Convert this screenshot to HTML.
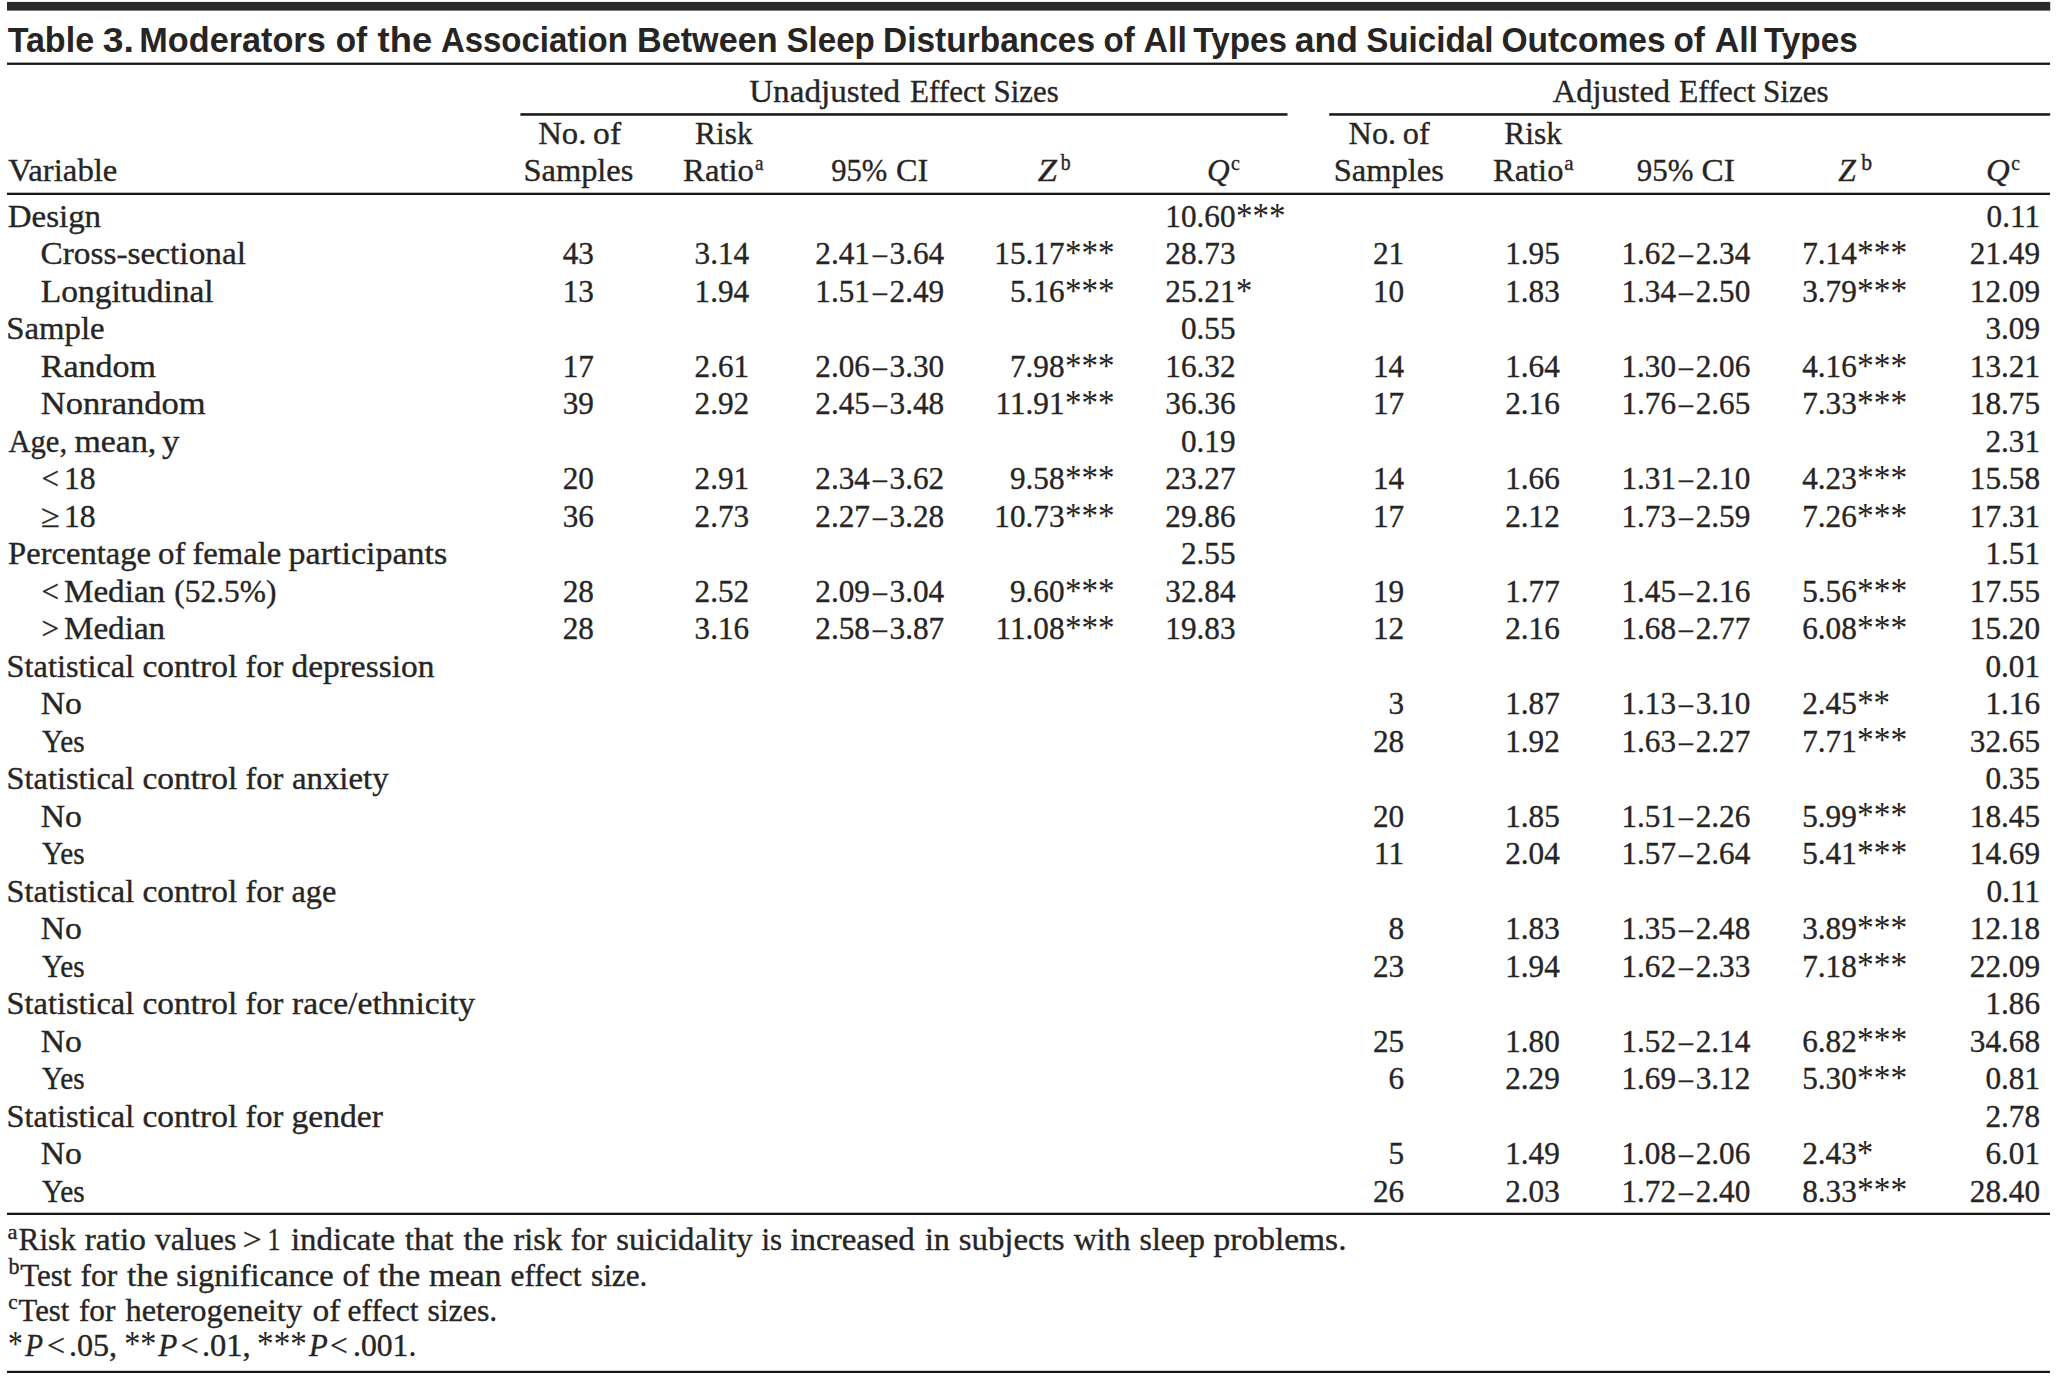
<!DOCTYPE html>
<html lang="en"><head><meta charset="utf-8"><title>Table 3</title>
<style>
html,body{margin:0;padding:0;background:#fff;overflow:hidden}
svg{display:block}
text{fill:#272524;white-space:pre;stroke:#272524;stroke-width:0.35px}
.ttl{stroke:none}
.ttl{font:bold 35.2px "Liberation Sans",sans-serif}
.lab{font:32.5px "Liberation Serif",serif}
.num{font:31.2px "Liberation Serif",serif}
.ital{font:italic 32.5px "Liberation Serif",serif}
.sup{font:21px "Liberation Serif",serif}
.supb{font:23px "Liberation Serif",serif}
.ast{font:36.5px "Liberation Serif",serif;stroke:none}
.e{text-anchor:end}
</style></head>
<body>
<svg width="2059" height="1376" viewBox="0 0 2059 1376">
<rect x="0" y="0" width="2059" height="1376" fill="#fff"/>
<rect x="7.0" y="1.9" width="2043.2" height="8.7" fill="#2a2927"/>
<rect x="7.0" y="62.6" width="2043.0" height="2.3" fill="#171614"/>
<rect x="520.4" y="113.2" width="767.1" height="2.5" fill="#171614"/>
<rect x="1329.2" y="113.2" width="721.0" height="2.5" fill="#171614"/>
<rect x="7.0" y="192.7" width="2043.0" height="2.3" fill="#171614"/>
<rect x="7.0" y="1212.7" width="2043.0" height="2.3" fill="#171614"/>
<rect x="7.0" y="1370.8" width="2043.0" height="2.2" fill="#171614"/>
<text class="ttl" x="7.63" y="51.70" textLength="86.47" lengthAdjust="spacingAndGlyphs">Table</text>
<text class="ttl" x="102.68" y="51.70" textLength="31.12" lengthAdjust="spacingAndGlyphs">3.</text>
<text class="ttl" x="139.34" y="51.70" textLength="186.34" lengthAdjust="spacingAndGlyphs">Moderators</text>
<text class="ttl" x="335.80" y="51.70" textLength="31.39" lengthAdjust="spacingAndGlyphs">of</text>
<text class="ttl" x="377.58" y="51.70" textLength="54.53" lengthAdjust="spacingAndGlyphs">the</text>
<text class="ttl" x="440.88" y="51.70" textLength="186.91" lengthAdjust="spacingAndGlyphs">Association</text>
<text class="ttl" x="637.05" y="51.70" textLength="140.45" lengthAdjust="spacingAndGlyphs">Between</text>
<text class="ttl" x="786.46" y="51.70" textLength="88.41" lengthAdjust="spacingAndGlyphs">Sleep</text>
<text class="ttl" x="883.06" y="51.70" textLength="212.02" lengthAdjust="spacingAndGlyphs">Disturbances</text>
<text class="ttl" x="1103.50" y="51.70" textLength="31.20" lengthAdjust="spacingAndGlyphs">of</text>
<text class="ttl" x="1143.55" y="51.70" textLength="43.27" lengthAdjust="spacingAndGlyphs">All</text>
<text class="ttl" x="1193.34" y="51.70" textLength="93.57" lengthAdjust="spacingAndGlyphs">Types</text>
<text class="ttl" x="1294.80" y="51.70" textLength="63.13" lengthAdjust="spacingAndGlyphs">and</text>
<text class="ttl" x="1366.14" y="51.70" textLength="127.34" lengthAdjust="spacingAndGlyphs">Suicidal</text>
<text class="ttl" x="1501.44" y="51.70" textLength="164.22" lengthAdjust="spacingAndGlyphs">Outcomes</text>
<text class="ttl" x="1673.39" y="51.70" textLength="31.44" lengthAdjust="spacingAndGlyphs">of</text>
<text class="ttl" x="1714.67" y="51.70" textLength="43.42" lengthAdjust="spacingAndGlyphs">All</text>
<text class="ttl" x="1763.94" y="51.70" textLength="93.73" lengthAdjust="spacingAndGlyphs">Types</text>

<text class="lab" x="749.17" y="102.00" textLength="150.97" lengthAdjust="spacingAndGlyphs">Unadjusted</text>
<text class="lab" x="910.07" y="102.00" textLength="75.25" lengthAdjust="spacingAndGlyphs">Effect</text>
<text class="lab" x="993.58" y="102.00" textLength="65.06" lengthAdjust="spacingAndGlyphs">Sizes</text>
<text class="lab" x="1552.79" y="102.00" textLength="117.27" lengthAdjust="spacingAndGlyphs">Adjusted</text>
<text class="lab" x="1679.04" y="102.00" textLength="76.45" lengthAdjust="spacingAndGlyphs">Effect</text>
<text class="lab" x="1762.98" y="102.00" textLength="65.59" lengthAdjust="spacingAndGlyphs">Sizes</text>

<text class="lab" x="8.29" y="181.40" textLength="109.13" lengthAdjust="spacingAndGlyphs">Variable</text>

<text class="lab" x="538.17" y="143.90" textLength="48.16" lengthAdjust="spacingAndGlyphs">No.</text>
<text class="lab" x="593.12" y="143.90" textLength="27.96" lengthAdjust="spacingAndGlyphs">of</text>

<text class="lab" x="523.44" y="181.40" textLength="109.97" lengthAdjust="spacingAndGlyphs">Samples</text>

<text class="lab" x="1348.60" y="143.90" textLength="47.48" lengthAdjust="spacingAndGlyphs">No.</text>
<text class="lab" x="1402.76" y="143.90" textLength="26.92" lengthAdjust="spacingAndGlyphs">of</text>

<text class="lab" x="1333.69" y="181.40" textLength="110.21" lengthAdjust="spacingAndGlyphs">Samples</text>

<text class="lab" x="695.06" y="143.90" textLength="57.53" lengthAdjust="spacingAndGlyphs">Risk</text>

<text class="lab" x="683.11" y="181.40" textLength="70.87" lengthAdjust="spacingAndGlyphs">Ratio</text>

<text class="sup" x="754.97" y="169.60" textLength="8.49" lengthAdjust="spacingAndGlyphs">a</text>

<text class="lab" x="1504.35" y="143.90" textLength="57.77" lengthAdjust="spacingAndGlyphs">Risk</text>

<text class="lab" x="1492.99" y="181.40" textLength="70.40" lengthAdjust="spacingAndGlyphs">Ratio</text>

<text class="sup" x="1564.21" y="169.60" textLength="9.36" lengthAdjust="spacingAndGlyphs">a</text>

<text class="lab" x="831.26" y="181.40" textLength="56.08" lengthAdjust="spacingAndGlyphs">95%</text>
<text class="lab" x="896.10" y="181.40" textLength="32.27" lengthAdjust="spacingAndGlyphs">CI</text>
<text class="lab" x="1636.73" y="181.40" textLength="56.68" lengthAdjust="spacingAndGlyphs">95%</text>
<text class="lab" x="1701.55" y="181.40" textLength="33.29" lengthAdjust="spacingAndGlyphs">CI</text>
<text class="ital" x="1037.71" y="181.40" textLength="19.18" lengthAdjust="spacingAndGlyphs">Z</text>

<text class="supb" x="1060.69" y="170.00" textLength="9.89" lengthAdjust="spacingAndGlyphs">b</text>

<text class="ital" x="1838.19" y="181.40" textLength="17.61" lengthAdjust="spacingAndGlyphs">Z</text>

<text class="supb" x="1861.32" y="170.00" textLength="10.87" lengthAdjust="spacingAndGlyphs">b</text>

<text class="ital" x="1207.05" y="181.40" textLength="22.64" lengthAdjust="spacingAndGlyphs">Q</text>

<text class="sup" x="1230.88" y="169.60" textLength="8.87" lengthAdjust="spacingAndGlyphs">c</text>

<text class="ital" x="1985.90" y="181.40" textLength="23.72" lengthAdjust="spacingAndGlyphs">Q</text>

<text class="sup" x="2011.26" y="169.60" textLength="8.66" lengthAdjust="spacingAndGlyphs">c</text>

<text class="lab" x="7.73" y="226.80" textLength="93.39" lengthAdjust="spacingAndGlyphs">Design</text>
<text class="num e" x="1235.50" y="226.80">10.60</text>
<text class="ast" x="1235.90" y="227.60" textLength="49.58" lengthAdjust="spacingAndGlyphs">***</text>
<text class="num e" x="2040.00" y="226.80">0.11</text>

<text class="lab" x="40.52" y="264.29" textLength="205.51" lengthAdjust="spacingAndGlyphs">Cross-sectional</text>
<text class="num e" x="593.90" y="264.29">43</text>
<text class="num e" x="749.20" y="264.29">3.14</text>
<text class="num e" x="944.20" y="264.29">3.64</text>
<text class="num" x="872.90" y="264.29" textLength="13.90" lengthAdjust="spacingAndGlyphs">–</text>
<text class="num e" x="869.90" y="264.29">2.41</text>
<text class="num e" x="1064.50" y="264.29">15.17</text>
<text class="ast" x="1064.90" y="265.09" textLength="49.58" lengthAdjust="spacingAndGlyphs">***</text>
<text class="num e" x="1235.50" y="264.29">28.73</text>
<text class="num e" x="1404.10" y="264.29">21</text>
<text class="num e" x="1559.80" y="264.29">1.95</text>
<text class="num e" x="1750.30" y="264.29">2.34</text>
<text class="num" x="1679.00" y="264.29" textLength="13.90" lengthAdjust="spacingAndGlyphs">–</text>
<text class="num e" x="1676.00" y="264.29">1.62</text>
<text class="num e" x="1856.80" y="264.29">7.14</text>
<text class="ast" x="1857.12" y="265.09" textLength="50.13" lengthAdjust="spacingAndGlyphs">***</text>
<text class="num e" x="2040.00" y="264.29">21.49</text>

<text class="lab" x="40.73" y="301.78" textLength="172.96" lengthAdjust="spacingAndGlyphs">Longitudinal</text>
<text class="num e" x="593.90" y="301.78">13</text>
<text class="num e" x="749.20" y="301.78">1.94</text>
<text class="num e" x="944.20" y="301.78">2.49</text>
<text class="num" x="872.90" y="301.78" textLength="13.90" lengthAdjust="spacingAndGlyphs">–</text>
<text class="num e" x="869.90" y="301.78">1.51</text>
<text class="num e" x="1064.50" y="301.78">5.16</text>
<text class="ast" x="1064.90" y="302.58" textLength="49.58" lengthAdjust="spacingAndGlyphs">***</text>
<text class="num e" x="1235.50" y="301.78">25.21</text>
<text class="ast" x="1235.95" y="302.58" textLength="16.27" lengthAdjust="spacingAndGlyphs">*</text>
<text class="num e" x="1404.10" y="301.78">10</text>
<text class="num e" x="1559.80" y="301.78">1.83</text>
<text class="num e" x="1750.30" y="301.78">2.50</text>
<text class="num" x="1679.00" y="301.78" textLength="13.90" lengthAdjust="spacingAndGlyphs">–</text>
<text class="num e" x="1676.00" y="301.78">1.34</text>
<text class="num e" x="1856.80" y="301.78">3.79</text>
<text class="ast" x="1857.12" y="302.58" textLength="50.13" lengthAdjust="spacingAndGlyphs">***</text>
<text class="num e" x="2040.00" y="301.78">12.09</text>

<text class="lab" x="6.22" y="339.27" textLength="98.35" lengthAdjust="spacingAndGlyphs">Sample</text>
<text class="num e" x="1235.50" y="339.27">0.55</text>
<text class="num e" x="2040.00" y="339.27">3.09</text>

<text class="lab" x="40.72" y="376.76" textLength="115.21" lengthAdjust="spacingAndGlyphs">Random</text>
<text class="num e" x="593.90" y="376.76">17</text>
<text class="num e" x="749.20" y="376.76">2.61</text>
<text class="num e" x="944.20" y="376.76">3.30</text>
<text class="num" x="872.90" y="376.76" textLength="13.90" lengthAdjust="spacingAndGlyphs">–</text>
<text class="num e" x="869.90" y="376.76">2.06</text>
<text class="num e" x="1064.50" y="376.76">7.98</text>
<text class="ast" x="1064.90" y="377.56" textLength="49.58" lengthAdjust="spacingAndGlyphs">***</text>
<text class="num e" x="1235.50" y="376.76">16.32</text>
<text class="num e" x="1404.10" y="376.76">14</text>
<text class="num e" x="1559.80" y="376.76">1.64</text>
<text class="num e" x="1750.30" y="376.76">2.06</text>
<text class="num" x="1679.00" y="376.76" textLength="13.90" lengthAdjust="spacingAndGlyphs">–</text>
<text class="num e" x="1676.00" y="376.76">1.30</text>
<text class="num e" x="1856.80" y="376.76">4.16</text>
<text class="ast" x="1857.12" y="377.56" textLength="50.13" lengthAdjust="spacingAndGlyphs">***</text>
<text class="num e" x="2040.00" y="376.76">13.21</text>

<text class="lab" x="40.71" y="414.25" textLength="164.97" lengthAdjust="spacingAndGlyphs">Nonrandom</text>
<text class="num e" x="593.90" y="414.25">39</text>
<text class="num e" x="749.20" y="414.25">2.92</text>
<text class="num e" x="944.20" y="414.25">3.48</text>
<text class="num" x="872.90" y="414.25" textLength="13.90" lengthAdjust="spacingAndGlyphs">–</text>
<text class="num e" x="869.90" y="414.25">2.45</text>
<text class="num e" x="1064.50" y="414.25">11.91</text>
<text class="ast" x="1064.90" y="415.05" textLength="49.58" lengthAdjust="spacingAndGlyphs">***</text>
<text class="num e" x="1235.50" y="414.25">36.36</text>
<text class="num e" x="1404.10" y="414.25">17</text>
<text class="num e" x="1559.80" y="414.25">2.16</text>
<text class="num e" x="1750.30" y="414.25">2.65</text>
<text class="num" x="1679.00" y="414.25" textLength="13.90" lengthAdjust="spacingAndGlyphs">–</text>
<text class="num e" x="1676.00" y="414.25">1.76</text>
<text class="num e" x="1856.80" y="414.25">7.33</text>
<text class="ast" x="1857.12" y="415.05" textLength="50.13" lengthAdjust="spacingAndGlyphs">***</text>
<text class="num e" x="2040.00" y="414.25">18.75</text>

<text class="lab" x="8.41" y="451.74" textLength="58.70" lengthAdjust="spacingAndGlyphs">Age,</text>
<text class="lab" x="74.49" y="451.74" textLength="81.81" lengthAdjust="spacingAndGlyphs">mean,</text>
<text class="lab" x="161.93" y="451.74" textLength="17.50" lengthAdjust="spacingAndGlyphs">y</text>
<text class="num e" x="1235.50" y="451.74">0.19</text>
<text class="num e" x="2040.00" y="451.74">2.31</text>

<text class="lab" x="41.47" y="489.23" textLength="17.55" lengthAdjust="spacingAndGlyphs">&lt;</text>
<text class="lab" x="63.92" y="489.23" textLength="31.70" lengthAdjust="spacingAndGlyphs">18</text>
<text class="num e" x="593.90" y="489.23">20</text>
<text class="num e" x="749.20" y="489.23">2.91</text>
<text class="num e" x="944.20" y="489.23">3.62</text>
<text class="num" x="872.90" y="489.23" textLength="13.90" lengthAdjust="spacingAndGlyphs">–</text>
<text class="num e" x="869.90" y="489.23">2.34</text>
<text class="num e" x="1064.50" y="489.23">9.58</text>
<text class="ast" x="1064.90" y="490.03" textLength="49.58" lengthAdjust="spacingAndGlyphs">***</text>
<text class="num e" x="1235.50" y="489.23">23.27</text>
<text class="num e" x="1404.10" y="489.23">14</text>
<text class="num e" x="1559.80" y="489.23">1.66</text>
<text class="num e" x="1750.30" y="489.23">2.10</text>
<text class="num" x="1679.00" y="489.23" textLength="13.90" lengthAdjust="spacingAndGlyphs">–</text>
<text class="num e" x="1676.00" y="489.23">1.31</text>
<text class="num e" x="1856.80" y="489.23">4.23</text>
<text class="ast" x="1857.12" y="490.03" textLength="50.13" lengthAdjust="spacingAndGlyphs">***</text>
<text class="num e" x="2040.00" y="489.23">15.58</text>

<text class="lab" x="41.25" y="526.72" textLength="18.73" lengthAdjust="spacingAndGlyphs">≥</text>
<text class="lab" x="63.92" y="526.72" textLength="31.70" lengthAdjust="spacingAndGlyphs">18</text>
<text class="num e" x="593.90" y="526.72">36</text>
<text class="num e" x="749.20" y="526.72">2.73</text>
<text class="num e" x="944.20" y="526.72">3.28</text>
<text class="num" x="872.90" y="526.72" textLength="13.90" lengthAdjust="spacingAndGlyphs">–</text>
<text class="num e" x="869.90" y="526.72">2.27</text>
<text class="num e" x="1064.50" y="526.72">10.73</text>
<text class="ast" x="1064.90" y="527.52" textLength="49.58" lengthAdjust="spacingAndGlyphs">***</text>
<text class="num e" x="1235.50" y="526.72">29.86</text>
<text class="num e" x="1404.10" y="526.72">17</text>
<text class="num e" x="1559.80" y="526.72">2.12</text>
<text class="num e" x="1750.30" y="526.72">2.59</text>
<text class="num" x="1679.00" y="526.72" textLength="13.90" lengthAdjust="spacingAndGlyphs">–</text>
<text class="num e" x="1676.00" y="526.72">1.73</text>
<text class="num e" x="1856.80" y="526.72">7.26</text>
<text class="ast" x="1857.12" y="527.52" textLength="50.13" lengthAdjust="spacingAndGlyphs">***</text>
<text class="num e" x="2040.00" y="526.72">17.31</text>

<text class="lab" x="8.08" y="564.21" textLength="142.87" lengthAdjust="spacingAndGlyphs">Percentage</text>
<text class="lab" x="158.09" y="564.21" textLength="27.45" lengthAdjust="spacingAndGlyphs">of</text>
<text class="lab" x="192.40" y="564.21" textLength="89.01" lengthAdjust="spacingAndGlyphs">female</text>
<text class="lab" x="288.62" y="564.21" textLength="158.54" lengthAdjust="spacingAndGlyphs">participants</text>
<text class="num e" x="1235.50" y="564.21">2.55</text>
<text class="num e" x="2040.00" y="564.21">1.51</text>

<text class="lab" x="41.47" y="601.70" textLength="17.55" lengthAdjust="spacingAndGlyphs">&lt;</text>
<text class="lab" x="63.95" y="601.70" textLength="101.23" lengthAdjust="spacingAndGlyphs">Median</text>
<text class="lab" x="174.31" y="601.70" textLength="102.20" lengthAdjust="spacingAndGlyphs">(52.5%)</text>
<text class="num e" x="593.90" y="601.70">28</text>
<text class="num e" x="749.20" y="601.70">2.52</text>
<text class="num e" x="944.20" y="601.70">3.04</text>
<text class="num" x="872.90" y="601.70" textLength="13.90" lengthAdjust="spacingAndGlyphs">–</text>
<text class="num e" x="869.90" y="601.70">2.09</text>
<text class="num e" x="1064.50" y="601.70">9.60</text>
<text class="ast" x="1064.90" y="602.50" textLength="49.58" lengthAdjust="spacingAndGlyphs">***</text>
<text class="num e" x="1235.50" y="601.70">32.84</text>
<text class="num e" x="1404.10" y="601.70">19</text>
<text class="num e" x="1559.80" y="601.70">1.77</text>
<text class="num e" x="1750.30" y="601.70">2.16</text>
<text class="num" x="1679.00" y="601.70" textLength="13.90" lengthAdjust="spacingAndGlyphs">–</text>
<text class="num e" x="1676.00" y="601.70">1.45</text>
<text class="num e" x="1856.80" y="601.70">5.56</text>
<text class="ast" x="1857.12" y="602.50" textLength="50.13" lengthAdjust="spacingAndGlyphs">***</text>
<text class="num e" x="2040.00" y="601.70">17.55</text>

<text class="lab" x="41.48" y="639.19" textLength="17.56" lengthAdjust="spacingAndGlyphs">&gt;</text>
<text class="lab" x="63.95" y="639.19" textLength="101.23" lengthAdjust="spacingAndGlyphs">Median</text>
<text class="num e" x="593.90" y="639.19">28</text>
<text class="num e" x="749.20" y="639.19">3.16</text>
<text class="num e" x="944.20" y="639.19">3.87</text>
<text class="num" x="872.90" y="639.19" textLength="13.90" lengthAdjust="spacingAndGlyphs">–</text>
<text class="num e" x="869.90" y="639.19">2.58</text>
<text class="num e" x="1064.50" y="639.19">11.08</text>
<text class="ast" x="1064.90" y="639.99" textLength="49.58" lengthAdjust="spacingAndGlyphs">***</text>
<text class="num e" x="1235.50" y="639.19">19.83</text>
<text class="num e" x="1404.10" y="639.19">12</text>
<text class="num e" x="1559.80" y="639.19">2.16</text>
<text class="num e" x="1750.30" y="639.19">2.77</text>
<text class="num" x="1679.00" y="639.19" textLength="13.90" lengthAdjust="spacingAndGlyphs">–</text>
<text class="num e" x="1676.00" y="639.19">1.68</text>
<text class="num e" x="1856.80" y="639.19">6.08</text>
<text class="ast" x="1857.12" y="639.99" textLength="50.13" lengthAdjust="spacingAndGlyphs">***</text>
<text class="num e" x="2040.00" y="639.19">15.20</text>

<text class="lab" x="6.61" y="676.68" textLength="127.55" lengthAdjust="spacingAndGlyphs">Statistical</text>
<text class="lab" x="142.42" y="676.68" textLength="94.79" lengthAdjust="spacingAndGlyphs">control</text>
<text class="lab" x="245.40" y="676.68" textLength="37.97" lengthAdjust="spacingAndGlyphs">for</text>
<text class="lab" x="291.48" y="676.68" textLength="142.89" lengthAdjust="spacingAndGlyphs">depression</text>
<text class="num e" x="2040.00" y="676.68">0.01</text>

<text class="lab" x="40.73" y="714.17" textLength="41.17" lengthAdjust="spacingAndGlyphs">No</text>
<text class="num e" x="1404.10" y="714.17">3</text>
<text class="num e" x="1559.80" y="714.17">1.87</text>
<text class="num e" x="1750.30" y="714.17">3.10</text>
<text class="num" x="1679.00" y="714.17" textLength="13.90" lengthAdjust="spacingAndGlyphs">–</text>
<text class="num e" x="1676.00" y="714.17">1.13</text>
<text class="num e" x="1856.80" y="714.17">2.45</text>
<text class="ast" x="1857.14" y="714.97" textLength="32.87" lengthAdjust="spacingAndGlyphs">**</text>
<text class="num e" x="2040.00" y="714.17">1.16</text>

<text class="lab" x="42.00" y="751.66" textLength="42.59" lengthAdjust="spacingAndGlyphs">Yes</text>
<text class="num e" x="1404.10" y="751.66">28</text>
<text class="num e" x="1559.80" y="751.66">1.92</text>
<text class="num e" x="1750.30" y="751.66">2.27</text>
<text class="num" x="1679.00" y="751.66" textLength="13.90" lengthAdjust="spacingAndGlyphs">–</text>
<text class="num e" x="1676.00" y="751.66">1.63</text>
<text class="num e" x="1856.80" y="751.66">7.71</text>
<text class="ast" x="1857.12" y="752.46" textLength="50.13" lengthAdjust="spacingAndGlyphs">***</text>
<text class="num e" x="2040.00" y="751.66">32.65</text>

<text class="lab" x="6.61" y="789.15" textLength="127.55" lengthAdjust="spacingAndGlyphs">Statistical</text>
<text class="lab" x="142.42" y="789.15" textLength="94.79" lengthAdjust="spacingAndGlyphs">control</text>
<text class="lab" x="245.40" y="789.15" textLength="37.97" lengthAdjust="spacingAndGlyphs">for</text>
<text class="lab" x="291.92" y="789.15" textLength="96.72" lengthAdjust="spacingAndGlyphs">anxiety</text>
<text class="num e" x="2040.00" y="789.15">0.35</text>

<text class="lab" x="40.73" y="826.64" textLength="41.17" lengthAdjust="spacingAndGlyphs">No</text>
<text class="num e" x="1404.10" y="826.64">20</text>
<text class="num e" x="1559.80" y="826.64">1.85</text>
<text class="num e" x="1750.30" y="826.64">2.26</text>
<text class="num" x="1679.00" y="826.64" textLength="13.90" lengthAdjust="spacingAndGlyphs">–</text>
<text class="num e" x="1676.00" y="826.64">1.51</text>
<text class="num e" x="1856.80" y="826.64">5.99</text>
<text class="ast" x="1857.12" y="827.44" textLength="50.13" lengthAdjust="spacingAndGlyphs">***</text>
<text class="num e" x="2040.00" y="826.64">18.45</text>

<text class="lab" x="42.00" y="864.13" textLength="42.59" lengthAdjust="spacingAndGlyphs">Yes</text>
<text class="num e" x="1404.10" y="864.13">11</text>
<text class="num e" x="1559.80" y="864.13">2.04</text>
<text class="num e" x="1750.30" y="864.13">2.64</text>
<text class="num" x="1679.00" y="864.13" textLength="13.90" lengthAdjust="spacingAndGlyphs">–</text>
<text class="num e" x="1676.00" y="864.13">1.57</text>
<text class="num e" x="1856.80" y="864.13">5.41</text>
<text class="ast" x="1857.12" y="864.93" textLength="50.13" lengthAdjust="spacingAndGlyphs">***</text>
<text class="num e" x="2040.00" y="864.13">14.69</text>

<text class="lab" x="6.61" y="901.62" textLength="127.55" lengthAdjust="spacingAndGlyphs">Statistical</text>
<text class="lab" x="142.42" y="901.62" textLength="94.79" lengthAdjust="spacingAndGlyphs">control</text>
<text class="lab" x="245.40" y="901.62" textLength="37.97" lengthAdjust="spacingAndGlyphs">for</text>
<text class="lab" x="291.47" y="901.62" textLength="44.89" lengthAdjust="spacingAndGlyphs">age</text>
<text class="num e" x="2040.00" y="901.62">0.11</text>

<text class="lab" x="40.73" y="939.11" textLength="41.17" lengthAdjust="spacingAndGlyphs">No</text>
<text class="num e" x="1404.10" y="939.11">8</text>
<text class="num e" x="1559.80" y="939.11">1.83</text>
<text class="num e" x="1750.30" y="939.11">2.48</text>
<text class="num" x="1679.00" y="939.11" textLength="13.90" lengthAdjust="spacingAndGlyphs">–</text>
<text class="num e" x="1676.00" y="939.11">1.35</text>
<text class="num e" x="1856.80" y="939.11">3.89</text>
<text class="ast" x="1857.12" y="939.91" textLength="50.13" lengthAdjust="spacingAndGlyphs">***</text>
<text class="num e" x="2040.00" y="939.11">12.18</text>

<text class="lab" x="42.00" y="976.60" textLength="42.59" lengthAdjust="spacingAndGlyphs">Yes</text>
<text class="num e" x="1404.10" y="976.60">23</text>
<text class="num e" x="1559.80" y="976.60">1.94</text>
<text class="num e" x="1750.30" y="976.60">2.33</text>
<text class="num" x="1679.00" y="976.60" textLength="13.90" lengthAdjust="spacingAndGlyphs">–</text>
<text class="num e" x="1676.00" y="976.60">1.62</text>
<text class="num e" x="1856.80" y="976.60">7.18</text>
<text class="ast" x="1857.12" y="977.40" textLength="50.13" lengthAdjust="spacingAndGlyphs">***</text>
<text class="num e" x="2040.00" y="976.60">22.09</text>

<text class="lab" x="6.61" y="1014.09" textLength="127.55" lengthAdjust="spacingAndGlyphs">Statistical</text>
<text class="lab" x="142.42" y="1014.09" textLength="94.79" lengthAdjust="spacingAndGlyphs">control</text>
<text class="lab" x="245.40" y="1014.09" textLength="37.97" lengthAdjust="spacingAndGlyphs">for</text>
<text class="lab" x="292.11" y="1014.09" textLength="183.08" lengthAdjust="spacingAndGlyphs">race/ethnicity</text>
<text class="num e" x="2040.00" y="1014.09">1.86</text>

<text class="lab" x="40.73" y="1051.58" textLength="41.17" lengthAdjust="spacingAndGlyphs">No</text>
<text class="num e" x="1404.10" y="1051.58">25</text>
<text class="num e" x="1559.80" y="1051.58">1.80</text>
<text class="num e" x="1750.30" y="1051.58">2.14</text>
<text class="num" x="1679.00" y="1051.58" textLength="13.90" lengthAdjust="spacingAndGlyphs">–</text>
<text class="num e" x="1676.00" y="1051.58">1.52</text>
<text class="num e" x="1856.80" y="1051.58">6.82</text>
<text class="ast" x="1857.12" y="1052.38" textLength="50.13" lengthAdjust="spacingAndGlyphs">***</text>
<text class="num e" x="2040.00" y="1051.58">34.68</text>

<text class="lab" x="42.00" y="1089.07" textLength="42.59" lengthAdjust="spacingAndGlyphs">Yes</text>
<text class="num e" x="1404.10" y="1089.07">6</text>
<text class="num e" x="1559.80" y="1089.07">2.29</text>
<text class="num e" x="1750.30" y="1089.07">3.12</text>
<text class="num" x="1679.00" y="1089.07" textLength="13.90" lengthAdjust="spacingAndGlyphs">–</text>
<text class="num e" x="1676.00" y="1089.07">1.69</text>
<text class="num e" x="1856.80" y="1089.07">5.30</text>
<text class="ast" x="1857.12" y="1089.87" textLength="50.13" lengthAdjust="spacingAndGlyphs">***</text>
<text class="num e" x="2040.00" y="1089.07">0.81</text>

<text class="lab" x="6.61" y="1126.56" textLength="127.55" lengthAdjust="spacingAndGlyphs">Statistical</text>
<text class="lab" x="142.42" y="1126.56" textLength="94.79" lengthAdjust="spacingAndGlyphs">control</text>
<text class="lab" x="245.40" y="1126.56" textLength="37.97" lengthAdjust="spacingAndGlyphs">for</text>
<text class="lab" x="291.55" y="1126.56" textLength="91.44" lengthAdjust="spacingAndGlyphs">gender</text>
<text class="num e" x="2040.00" y="1126.56">2.78</text>

<text class="lab" x="40.73" y="1164.05" textLength="41.17" lengthAdjust="spacingAndGlyphs">No</text>
<text class="num e" x="1404.10" y="1164.05">5</text>
<text class="num e" x="1559.80" y="1164.05">1.49</text>
<text class="num e" x="1750.30" y="1164.05">2.06</text>
<text class="num" x="1679.00" y="1164.05" textLength="13.90" lengthAdjust="spacingAndGlyphs">–</text>
<text class="num e" x="1676.00" y="1164.05">1.08</text>
<text class="num e" x="1856.80" y="1164.05">2.43</text>
<text class="ast" x="1857.08" y="1164.85" textLength="16.17" lengthAdjust="spacingAndGlyphs">*</text>
<text class="num e" x="2040.00" y="1164.05">6.01</text>

<text class="lab" x="42.00" y="1201.54" textLength="42.59" lengthAdjust="spacingAndGlyphs">Yes</text>
<text class="num e" x="1404.10" y="1201.54">26</text>
<text class="num e" x="1559.80" y="1201.54">2.03</text>
<text class="num e" x="1750.30" y="1201.54">2.40</text>
<text class="num" x="1679.00" y="1201.54" textLength="13.90" lengthAdjust="spacingAndGlyphs">–</text>
<text class="num e" x="1676.00" y="1201.54">1.72</text>
<text class="num e" x="1856.80" y="1201.54">8.33</text>
<text class="ast" x="1857.12" y="1202.34" textLength="50.13" lengthAdjust="spacingAndGlyphs">***</text>
<text class="num e" x="2040.00" y="1201.54">28.40</text>

<text class="sup" x="7.63" y="1238.60" textLength="9.99" lengthAdjust="spacingAndGlyphs">a</text>

<text class="lab" x="18.58" y="1250.10" textLength="57.30" lengthAdjust="spacingAndGlyphs">Risk</text>
<text class="lab" x="84.73" y="1250.10" textLength="61.25" lengthAdjust="spacingAndGlyphs">ratio</text>
<text class="lab" x="154.63" y="1250.10" textLength="81.87" lengthAdjust="spacingAndGlyphs">values</text>
<text class="lab" x="242.89" y="1250.10" textLength="18.86" lengthAdjust="spacingAndGlyphs">&gt;</text>
<text class="lab" x="267.43" y="1250.10" textLength="12.93" lengthAdjust="spacingAndGlyphs">1</text>
<text class="lab" x="290.96" y="1250.10" textLength="104.21" lengthAdjust="spacingAndGlyphs">indicate</text>
<text class="lab" x="405.11" y="1250.10" textLength="48.30" lengthAdjust="spacingAndGlyphs">that</text>
<text class="lab" x="463.51" y="1250.10" textLength="40.44" lengthAdjust="spacingAndGlyphs">the</text>
<text class="lab" x="513.55" y="1250.10" textLength="48.55" lengthAdjust="spacingAndGlyphs">risk</text>
<text class="lab" x="570.70" y="1250.10" textLength="35.62" lengthAdjust="spacingAndGlyphs">for</text>
<text class="lab" x="616.27" y="1250.10" textLength="136.35" lengthAdjust="spacingAndGlyphs">suicidality</text>
<text class="lab" x="761.51" y="1250.10" textLength="20.65" lengthAdjust="spacingAndGlyphs">is</text>
<text class="lab" x="790.47" y="1250.10" textLength="124.36" lengthAdjust="spacingAndGlyphs">increased</text>
<text class="lab" x="924.90" y="1250.10" textLength="24.96" lengthAdjust="spacingAndGlyphs">in</text>
<text class="lab" x="958.71" y="1250.10" textLength="105.85" lengthAdjust="spacingAndGlyphs">subjects</text>
<text class="lab" x="1073.65" y="1250.10" textLength="56.75" lengthAdjust="spacingAndGlyphs">with</text>
<text class="lab" x="1139.60" y="1250.10" textLength="65.37" lengthAdjust="spacingAndGlyphs">sleep</text>
<text class="lab" x="1213.62" y="1250.10" textLength="132.90" lengthAdjust="spacingAndGlyphs">problems.</text>

<text class="supb" x="8.38" y="1274.20" textLength="11.02" lengthAdjust="spacingAndGlyphs">b</text>

<text class="lab" x="20.19" y="1285.60" textLength="51.18" lengthAdjust="spacingAndGlyphs">Test</text>
<text class="lab" x="80.59" y="1285.60" textLength="36.74" lengthAdjust="spacingAndGlyphs">for</text>
<text class="lab" x="127.12" y="1285.60" textLength="41.24" lengthAdjust="spacingAndGlyphs">the</text>
<text class="lab" x="176.36" y="1285.60" textLength="157.22" lengthAdjust="spacingAndGlyphs">significance</text>
<text class="lab" x="342.60" y="1285.60" textLength="27.03" lengthAdjust="spacingAndGlyphs">of</text>
<text class="lab" x="378.17" y="1285.60" textLength="42.13" lengthAdjust="spacingAndGlyphs">the</text>
<text class="lab" x="429.04" y="1285.60" textLength="72.39" lengthAdjust="spacingAndGlyphs">mean</text>
<text class="lab" x="510.48" y="1285.60" textLength="71.08" lengthAdjust="spacingAndGlyphs">effect</text>
<text class="lab" x="591.01" y="1285.60" textLength="56.43" lengthAdjust="spacingAndGlyphs">size.</text>

<text class="sup" x="8.22" y="1309.30" textLength="9.43" lengthAdjust="spacingAndGlyphs">c</text>

<text class="lab" x="18.55" y="1320.80" textLength="50.81" lengthAdjust="spacingAndGlyphs">Test</text>
<text class="lab" x="78.88" y="1320.80" textLength="36.57" lengthAdjust="spacingAndGlyphs">for</text>
<text class="lab" x="125.48" y="1320.80" textLength="176.66" lengthAdjust="spacingAndGlyphs">heterogeneity</text>
<text class="lab" x="312.44" y="1320.80" textLength="27.82" lengthAdjust="spacingAndGlyphs">of</text>
<text class="lab" x="347.61" y="1320.80" textLength="70.82" lengthAdjust="spacingAndGlyphs">effect</text>
<text class="lab" x="427.40" y="1320.80" textLength="69.85" lengthAdjust="spacingAndGlyphs">sizes.</text>

<text class="ast" x="8.05" y="1356.30" textLength="14.79" lengthAdjust="spacingAndGlyphs">*</text>
<text class="ital" x="25.26" y="1356.40" textLength="17.77" lengthAdjust="spacingAndGlyphs">P</text>
<text class="lab" x="47.04" y="1356.40" textLength="18.01" lengthAdjust="spacingAndGlyphs">&lt;</text>
<text class="num" x="68.93" y="1356.40" textLength="48.14" lengthAdjust="spacingAndGlyphs">.05,</text>
<text class="ast" x="124.21" y="1356.30" textLength="32.12" lengthAdjust="spacingAndGlyphs">**</text>
<text class="ital" x="158.27" y="1356.40" textLength="19.08" lengthAdjust="spacingAndGlyphs">P</text>
<text class="lab" x="180.41" y="1356.40" textLength="18.27" lengthAdjust="spacingAndGlyphs">&lt;</text>
<text class="num" x="201.92" y="1356.40" textLength="48.81" lengthAdjust="spacingAndGlyphs">.01,</text>
<text class="ast" x="257.11" y="1356.30" textLength="49.75" lengthAdjust="spacingAndGlyphs">***</text>
<text class="ital" x="309.00" y="1356.40" textLength="18.76" lengthAdjust="spacingAndGlyphs">P</text>
<text class="lab" x="330.06" y="1356.40" textLength="17.71" lengthAdjust="spacingAndGlyphs">&lt;</text>
<text class="num" x="352.96" y="1356.40" textLength="63.46" lengthAdjust="spacingAndGlyphs">.001.</text>

</svg>
</body></html>
